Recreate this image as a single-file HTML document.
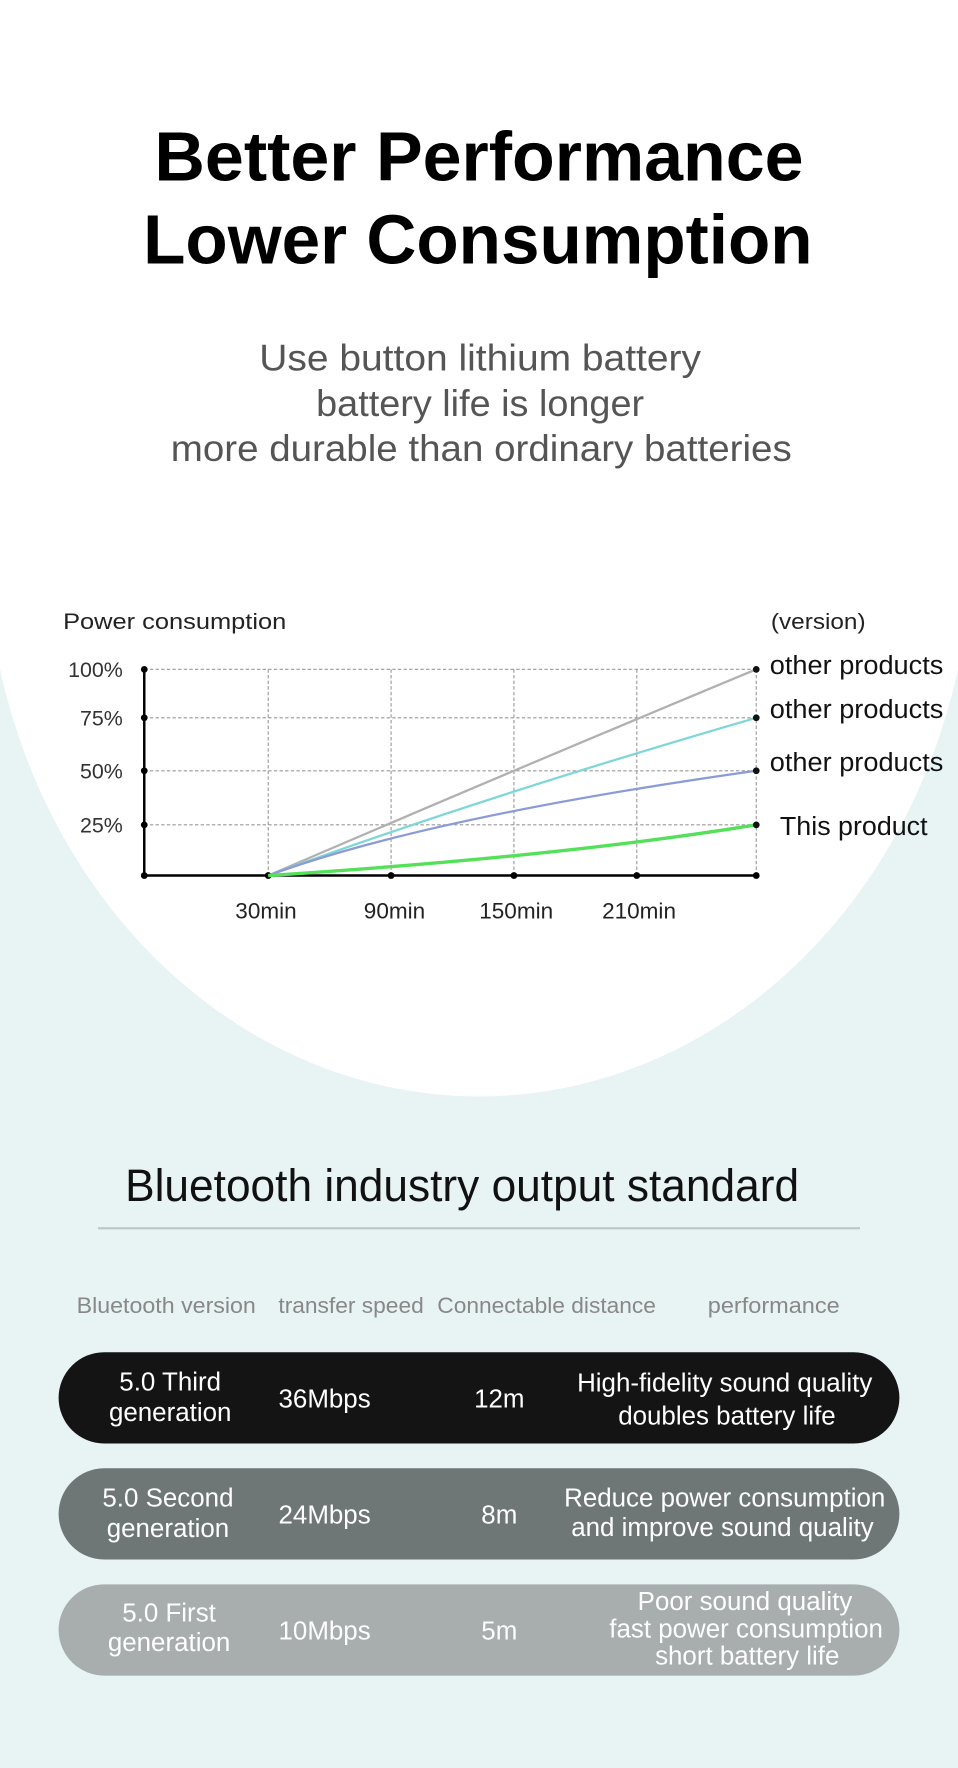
<!DOCTYPE html>
<html><head><meta charset="utf-8"><style>
html,body{margin:0;padding:0;background:#e8f3f4;}
svg{display:block;font-family:"Liberation Sans",sans-serif;}
</style></head><body>
<svg width="958" height="1768" viewBox="0 0 850 1569" preserveAspectRatio="none" xmlns="http://www.w3.org/2000/svg">
<rect x="0" y="0" width="850" height="1569" fill="#e8f3f4"/>
<rect x="0" y="0" width="850" height="480" fill="#ffffff"/>
<ellipse cx="425" cy="473" rx="438" ry="500" fill="#ffffff"/>

<g text-anchor="middle" font-weight="bold" fill="#000" font-size="62">
<text x="425" y="160" textLength="576" lengthAdjust="spacingAndGlyphs">Better Performance</text>
<text x="424" y="234" textLength="594" lengthAdjust="spacingAndGlyphs">Lower Consumption</text>
</g>
<g text-anchor="middle" fill="#555" font-size="33">
<text x="426" y="329" textLength="392" lengthAdjust="spacingAndGlyphs">Use button lithium battery</text>
<text x="426" y="369" textLength="291" lengthAdjust="spacingAndGlyphs">battery life is longer</text>
<text x="427" y="409" textLength="551" lengthAdjust="spacingAndGlyphs">more durable than ordinary batteries</text>
</g>

<!-- chart -->
<g fill="#222" font-size="20">
<text x="56" y="558" textLength="198" lengthAdjust="spacingAndGlyphs">Power consumption</text>
<text x="684" y="558" textLength="84" lengthAdjust="spacingAndGlyphs">(version)</text>
</g>
<g fill="#333" font-size="19" text-anchor="end">
<text x="109" y="601">100%</text>
<text x="109" y="644">75%</text>
<text x="109" y="691">50%</text>
<text x="109" y="739">25%</text>
</g>
<g stroke="#999" stroke-width="1" stroke-dasharray="3,2" fill="none">
<line x1="128" y1="594" x2="671" y2="594"/>
<line x1="128" y1="637" x2="671" y2="637"/>
<line x1="128" y1="684" x2="671" y2="684"/>
<line x1="128" y1="732" x2="671" y2="732"/>
<line x1="238" y1="594" x2="238" y2="777"/>
<line x1="347" y1="594" x2="347" y2="777"/>
<line x1="456" y1="594" x2="456" y2="777"/>
<line x1="565" y1="594" x2="565" y2="777"/>
<line x1="671" y1="594" x2="671" y2="777"/>
</g>
<g stroke="#000" stroke-width="2.2">
<line x1="128" y1="594" x2="128" y2="777"/>
<line x1="128" y1="777" x2="671" y2="777"/>
</g>
<g fill="#000">
<circle cx="128" cy="594" r="3"/><circle cx="128" cy="637" r="3"/><circle cx="128" cy="684" r="3"/><circle cx="128" cy="732" r="3"/><circle cx="128" cy="777" r="3"/>
<circle cx="238" cy="777" r="3"/><circle cx="347" cy="777" r="3"/><circle cx="456" cy="777" r="3"/><circle cx="565" cy="777" r="3"/><circle cx="671" cy="777" r="3"/>
</g>
<g fill="none" stroke-width="2">
<path d="M238 777 Q440 690 671 594" stroke="#b0b0b0"/>
<path d="M238 777 Q420 710 671 637" stroke="#7fd6d6"/>
<path d="M238 777 Q380 725 671 684" stroke="#8a9cd8"/>
<path d="M238 777 Q500 760 671 732" stroke="#55e05a" stroke-width="3"/>
</g>
<g fill="#111"><circle cx="671" cy="594" r="3"/><circle cx="671" cy="637" r="3"/><circle cx="671" cy="684" r="3"/><circle cx="671" cy="732" r="3"/></g>
<g fill="#111" font-size="23">
<text x="683" y="598" textLength="154" lengthAdjust="spacingAndGlyphs">other products</text>
<text x="683" y="637" textLength="154" lengthAdjust="spacingAndGlyphs">other products</text>
<text x="683" y="684" textLength="154" lengthAdjust="spacingAndGlyphs">other products</text>
<text x="692" y="741" textLength="131" lengthAdjust="spacingAndGlyphs">This product</text>
</g>
<g fill="#222" font-size="20" text-anchor="middle">
<text x="236" y="815">30min</text>
<text x="350" y="815">90min</text>
<text x="458" y="815">150min</text>
<text x="567" y="815">210min</text>
</g>

<!-- table -->
<text x="410" y="1066" text-anchor="middle" font-size="40" fill="#111" textLength="598" lengthAdjust="spacingAndGlyphs">Bluetooth industry output standard</text>
<line x1="87" y1="1090" x2="763" y2="1090" stroke="#bcc8c8" stroke-width="2"/>
<g fill="#888" font-size="20">
<text x="68" y="1165" textLength="159" lengthAdjust="spacingAndGlyphs">Bluetooth version</text>
<text x="247" y="1165" textLength="129" lengthAdjust="spacingAndGlyphs">transfer speed</text>
<text x="388" y="1165" textLength="194" lengthAdjust="spacingAndGlyphs">Connectable distance</text>
<text x="628" y="1165" textLength="117" lengthAdjust="spacingAndGlyphs">performance</text>
</g>
<rect x="52" y="1200" width="746" height="81" rx="40.5" fill="#141414"/>
<rect x="52" y="1303" width="746" height="81" rx="40.5" fill="#6e7676"/>
<rect x="52" y="1406" width="746" height="81" rx="40.5" fill="#a8adad"/>
<g fill="#fff" font-size="23" text-anchor="middle">
<text x="151" y="1234">5.0 Third</text>
<text x="151" y="1261">generation</text>
<text x="288" y="1249">36Mbps</text>
<text x="443" y="1249">12m</text>
<text x="643" y="1235">High-fidelity sound quality</text>
<text x="645" y="1264">doubles battery life</text>

<text x="149" y="1337">5.0 Second</text>
<text x="149" y="1364">generation</text>
<text x="288" y="1352">24Mbps</text>
<text x="443" y="1352">8m</text>
<text x="643" y="1337">Reduce power consumption</text>
<text x="641" y="1363">and improve sound quality</text>

<text x="150" y="1439">5.0 First</text>
<text x="150" y="1465">generation</text>
<text x="288" y="1455">10Mbps</text>
<text x="443" y="1455">5m</text>
<text x="661" y="1429">Poor sound quality</text>
<text x="662" y="1453">fast power consumption</text>
<text x="663" y="1477">short battery life</text>
</g>
</svg>
</body></html>
